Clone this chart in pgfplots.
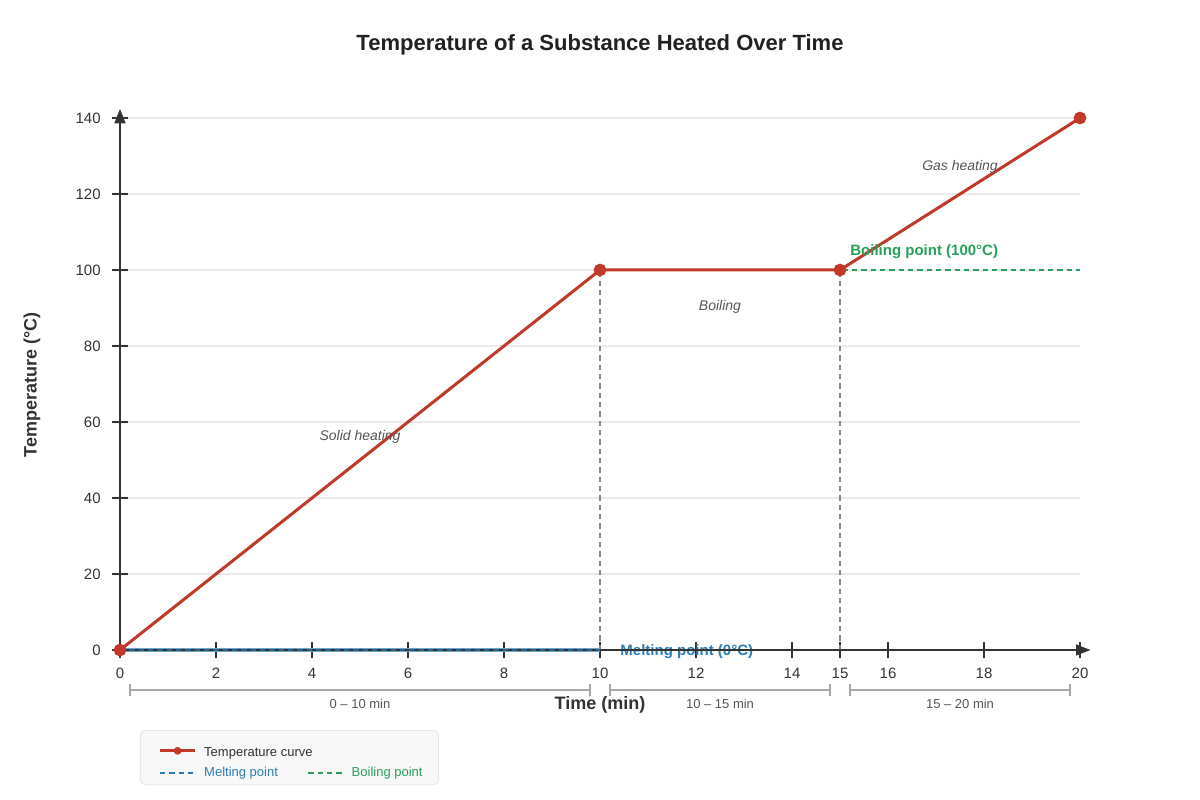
\documentclass[border=0pt]{standalone}
\usepackage{fontspec}
\setmainfont{Liberation Sans}
\usepackage{pgfplots}
\pgfplotsset{compat=1.18}
\usetikzlibrary{arrows.meta}
\definecolor{tempred}{HTML}{C0392B}
\definecolor{meltblue}{HTML}{2E7DB5}
\definecolor{boilgreen}{HTML}{27A05A}
\definecolor{axisgray}{HTML}{333333}
\definecolor{gridgray}{HTML}{EBEBEB}
\definecolor{annot}{HTML}{555555}
\definecolor{vgray}{HTML}{888888}
\definecolor{brgray}{HTML}{AAAAAA}
\definecolor{legfill}{HTML}{F8F8F8}
\definecolor{legdraw}{HTML}{DDDDDD}

\begin{document}
\begin{tikzpicture}
\useasboundingbox (0,0) rectangle (900pt,600pt);
\begin{axis}[
  at={(90pt,112.5pt)}, anchor=south west,
  scale only axis, width=720pt, height=399pt,
  xmin=0, xmax=20, ymin=0, ymax=140,
  axis lines=left, axis line style={draw=none},
  xtick={0,2,4,6,8,10,12,14,15,16,18,20},
  ytick={0,20,...,140},
  tick align=center, major tick length=12pt,
  tick style={axisgray, line width=1.1pt},
  ymajorgrids, grid style={gridgray, line width=0.8pt},
  ticklabel style={font=\fontsize{11.25}{13}\selectfont, text=axisgray},
  xticklabel style={yshift=-3.75pt},
  yticklabel style={xshift=-5pt},
  /pgf/number format/assume math mode=true,
  clip=false,
  legend columns=2,
  legend cell align=left,
  legend style={at={(rel axis cs:0.0208,-0.1504)}, anchor=north west,
    draw=legdraw, fill=legfill, rounded corners=3.75pt,
    font=\fontsize{9.75}{12}\selectfont, text=axisgray,
    inner xsep=10pt, inner ysep=2.75pt, row sep=2.75pt,
    /tikz/every odd column/.append style={column sep=3.75pt},
    /tikz/every even column/.append style={column sep=16.5pt}},
  legend image code/.code={\path (0pt,0pt); \draw[mark repeat=2,mark phase=2,#1] plot coordinates {(3.75pt,0pt)(16.9pt,0pt)(30pt,0pt)};},
]
\addlegendimage{tempred, line width=2.25pt, mark=*, mark size=1.7pt, yshift=-2.6pt}
\addlegendentry{\makebox[0pt][l]{\rule{0pt}{14.6pt}Temperature curve}}
\addlegendimage{empty legend}
\addlegendentry{}
\addlegendimage{meltblue, line width=1.1pt, dash pattern=on 4pt off 3pt}
\addlegendentry{\textcolor{meltblue}{Melting point}}
\addlegendimage{boilgreen, line width=1.1pt, dash pattern=on 4pt off 3pt}
\addlegendentry{\textcolor{boilgreen}{Boiling point}}

% phase boundaries
\addplot[forget plot, vgray, line width=1.1pt, dash pattern=on 4pt off 3pt] coordinates {(10,0) (10,100)};
\addplot[forget plot, vgray, line width=1.1pt, dash pattern=on 4pt off 3pt] coordinates {(15,0) (15,100)};
% boiling point
\addplot[forget plot, boilgreen, line width=1.1pt, dash pattern=on 4pt off 3pt] coordinates {(10,100) (20,100)};
% melting point
\addplot[forget plot, meltblue!70, line width=2.6pt] coordinates {(0,0) (10,0)};
\node[font=\fontsize{11.25}{13}\selectfont\bfseries, text=meltblue, anchor=west, inner sep=0pt, yshift=-1.5pt] at (axis cs:10.42,0) {Melting point (0°C)};
% axes
\draw[axisgray, line width=1.9pt, -{Triangle[length=11pt,width=8pt]}] (axis cs:0,0) -- ([xshift=8pt]axis cs:20,0);
\draw[axisgray, line width=1.9pt, -{Triangle[length=11pt,width=8pt]}] (axis cs:0,0) -- ([yshift=7pt]axis cs:0,140);
\addplot[forget plot, meltblue, line width=1.1pt, dash pattern=on 4pt off 3pt, opacity=0.6] coordinates {(0,0) (10,0)};
% temperature curve
\addplot[forget plot, tempred, line width=2.25pt, mark=*, mark size=3.6pt] coordinates {
  (0,0) (10,100) (15,100) (20,140)
};

\node[font=\fontsize{10.5}{12}\selectfont\itshape, text=annot, yshift=-1.5pt] at (axis cs:5,56.6) {Solid heating};
\node[font=\fontsize{10.5}{12}\selectfont\itshape, text=annot, yshift=-1.5pt] at (axis cs:12.5,90.8) {Boiling};
\node[font=\fontsize{10.5}{12}\selectfont\itshape, text=annot, yshift=-1.5pt] at (axis cs:17.5,127.6) {Gas heating};
\node[font=\fontsize{11.25}{13}\selectfont\bfseries, text=boilgreen, anchor=west, inner sep=0pt, yshift=-1.5pt] at (axis cs:15.21,105.3) {Boiling point (100°C)};
\end{axis}
\begin{scope}[yshift=600pt, x=0.75pt, y=-0.75pt]
  \node[font=\fontsize{16.5}{20}\selectfont\bfseries, text=black!87] at (600,45) {Temperature of a Substance Heated Over Time};
  \node[font=\fontsize{13.5}{16}\selectfont\bfseries, text=axisgray] at (600,705) {Time (min)};
  \node[font=\fontsize{13.5}{16}\selectfont\bfseries, text=axisgray, rotate=90] at (32,385) {Temperature (°C)};
  \foreach \a/\b/\c/\t in {130/590/360/0 -- 10 min, 610/830/720/10 -- 15 min, 850/1070/960/15 -- 20 min} {
    \draw[brgray, line width=1.1pt] (\a,690) -- (\b,690);
    \draw[brgray, line width=0.8pt] (\a,684) -- (\a,696);
    \draw[brgray, line width=0.8pt] (\b,684) -- (\b,696);
    \node[font=\fontsize{9.75}{12}\selectfont, text=annot] at (\c,704) {\t};
  }
\end{scope}
\end{tikzpicture}
\end{document}
